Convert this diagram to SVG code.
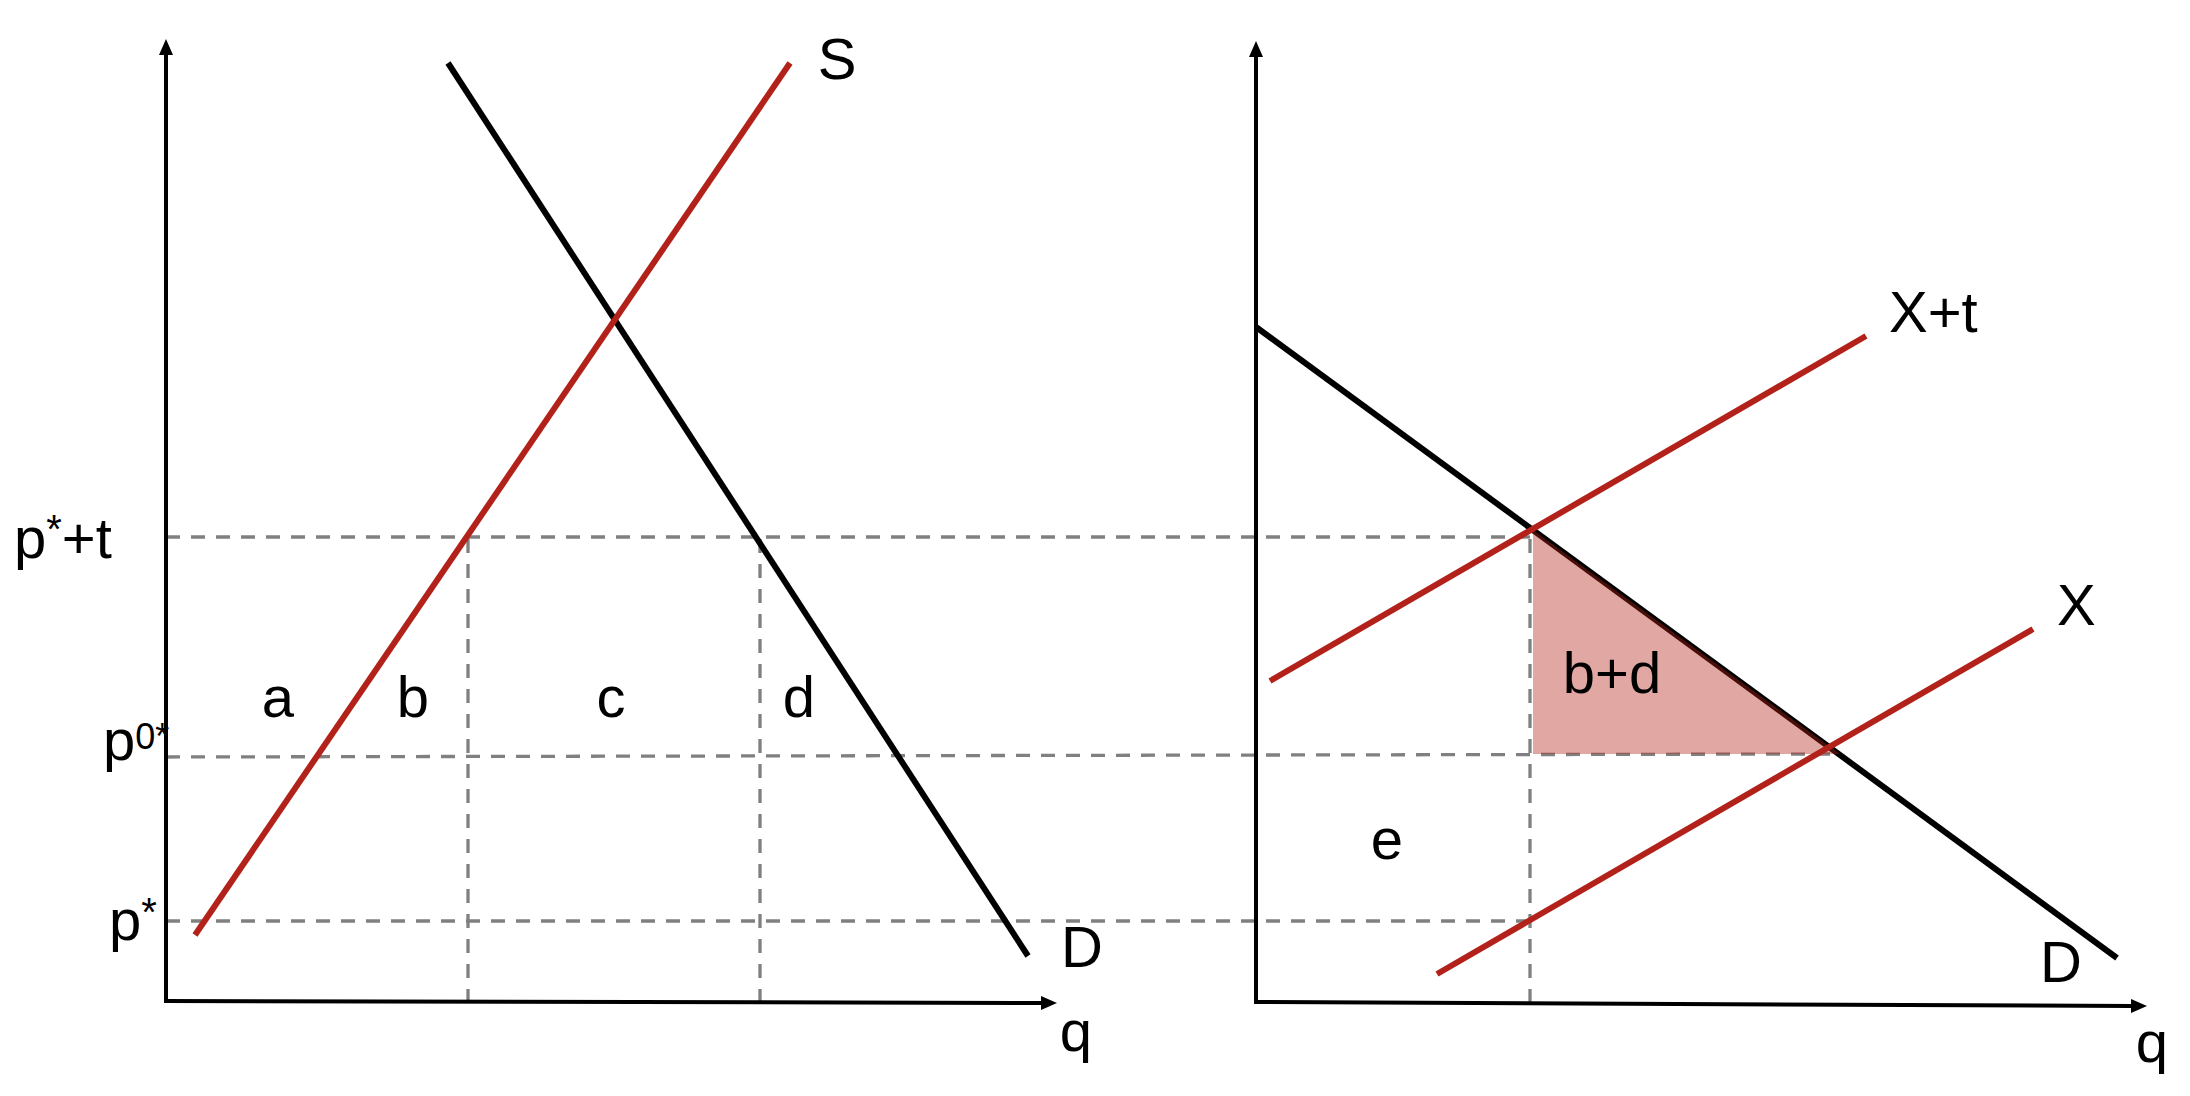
<svg xmlns="http://www.w3.org/2000/svg" width="2190" height="1096" viewBox="0 0 2190 1096">
<defs>
<marker id="arr" markerUnits="userSpaceOnUse" markerWidth="16" markerHeight="16" refX="2" refY="7" orient="auto" viewBox="0 0 16 14">
<path d="M0,0 L16,7 L0,14 Z" fill="#000"/>
</marker>
<style>
.ax{stroke:#000;stroke-width:4;fill:none}
.dash{stroke:#808080;stroke-width:3.3;stroke-dasharray:14 11;fill:none}
.red{stroke:#b3221a;stroke-width:6;fill:none}
.blk{stroke:#000;stroke-width:6;fill:none}
text{font-family:"Liberation Sans",Arial,sans-serif;font-size:58px;fill:#000}
.m{text-anchor:middle}
</style>
</defs>
<rect width="2190" height="1096" fill="#fff"/>
<g id="connectors">
<line class="dash" x1="166" y1="537" x2="1532" y2="537"/>
<line class="dash" x1="166" y1="757" x2="1830" y2="754"/>
<line class="dash" x1="166" y1="921" x2="1534" y2="921"/>
<line class="dash" x1="468" y1="539" x2="468" y2="1008"/>
<line class="dash" x1="760" y1="539" x2="760" y2="1008"/>
<line class="dash" x1="1530" y1="539" x2="1530" y2="1008"/>
</g>
<g id="left-axes">
<line class="ax" x1="166" y1="1001" x2="166" y2="53" marker-end="url(#arr)"/>
<line class="ax" x1="164" y1="1001" x2="1043" y2="1003" marker-end="url(#arr)"/>
</g>
<g id="right-axes">
<line class="ax" x1="1256" y1="1003" x2="1256" y2="55" marker-end="url(#arr)"/>
<line class="ax" x1="1254" y1="1002" x2="2133" y2="1006" marker-end="url(#arr)"/>
</g>
<g id="left-demand"><line class="blk" x1="448" y1="63" x2="1028" y2="956"/></g>
<g id="left-supply"><line class="red" x1="195" y1="935" x2="790" y2="63"/></g>
<g id="right-demand"><line class="blk" x1="1256" y1="327" x2="2117" y2="958"/></g>
<g id="area-bd"><polygon points="1533,530 1533,754 1840,754" fill="#b3221a" fill-opacity="0.4"/></g>
<g id="right-xt"><line class="red" x1="1270" y1="681" x2="1866" y2="336"/></g>
<g id="right-x"><line class="red" x1="1437" y1="974" x2="2033" y2="629"/></g>
<g id="labels">
<text x="14" y="558">p<tspan font-size="40" dy="-15">*</tspan><tspan dy="15">+t</tspan></text>
<text x="103" y="760">p<tspan font-size="36" dy="-11">0*</tspan></text>
<text x="109" y="940">p<tspan font-size="40" dy="-14">*</tspan></text>
<text x="837" y="79" class="m">S</text>
<text x="1082" y="967" class="m">D</text>
<text x="1076" y="1051" class="m">q</text>
<text x="278" y="717" class="m">a</text>
<text x="413" y="717" class="m">b</text>
<text x="611" y="717" class="m">c</text>
<text x="799" y="717" class="m">d</text>
<text x="1889" y="332">X+t</text>
<text x="2057" y="625">X</text>
<text x="2061" y="982" class="m">D</text>
<text x="2152" y="1062" class="m">q</text>
<text x="1387" y="859" class="m">e</text>
<text x="1612" y="693" class="m">b+d</text>
</g>
</svg>
